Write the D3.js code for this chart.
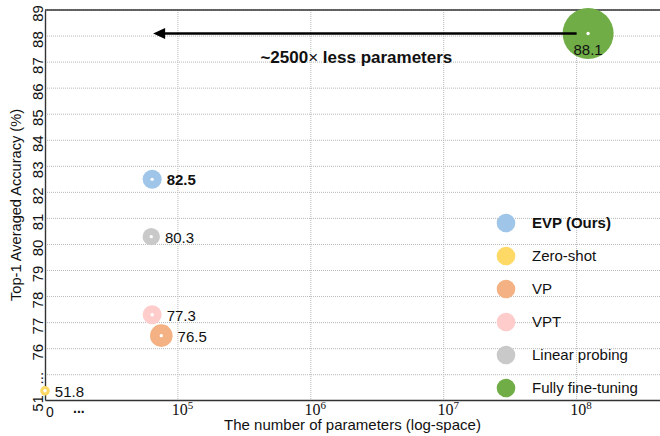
<!DOCTYPE html>
<html>
<head>
<meta charset="utf-8">
<script src="https://cdn.jsdelivr.net/npm/d3@7"></script>
<style>
  body { margin: 0; background: #fff; }
  svg { display: block; font-family: "Liberation Sans", Arial, sans-serif; }
</style>
</head>
<body>
<div id="chart"></div>
<script>
// data
const methods = ["EVP (Ours)", "Zero-shot", "VP", "VPT", "Linear probing", "Fully fine-tuning"];
const params = [64000, 0, 75000, 64000, 63000, 122000000];
const accuracy = [82.5, 51.8, 76.5, 77.3, 80.3, 88.1];
const yTicks = [51, 75, 76, 77, 78, 79, 80, 81, 82, 83, 84, 85, 86, 87, 88, 89];
const yTickLabels = ["51", "...", "76", "77", "78", "79", "80", "81", "82", "83", "84", "85", "86", "87", "88", "89"];
const xTicks = [1e5, 1e6, 1e7, 1e8];
const arrowFrom = 1e8, arrowTo = 64000, arrowAt = 88.1;
const arrowText = ["~2500", "\u00d7", " less parameters"];

// styles
const colors = ["#9fc5e8", "#ffd966", "#f4b183", "#ffcccc", "#c9c9c9", "#70ad47"];
const radii = [9.5, 4.8, 11.3, 9.5, 8.7, 25.5];
const boldLabel = [true, false, false, false, false, false];

const W = 660, H = 436;
const mLeft = 45, mTop = 10, mBottom = 400, mRight = 660;

const svg = d3.select("#chart").append("svg")
    .attr("width", W).attr("height", H);

const x = d3.scaleLog().domain([1e4, 4.24e8]).range([mLeft, mRight]);
// broken y axis: 51..53 squeezed under the "..." gap, 75..89 linear
const y = d3.scaleLinear().domain([51, 53, 75, 89]).range([mBottom, 377, 374.7, mTop]);

const px = v => x(v > 0 ? v : x.domain()[0]);

// grid
svg.append("g").selectAll("line").data(yTicks.filter(d => d !== 51)).enter()
    .append("line")
    .attr("x1", mLeft).attr("x2", mRight)
    .attr("y1", d => y(d)).attr("y2", d => y(d))
    .attr("stroke", "#b8b8b8").attr("stroke-width", 1)
    .attr("stroke-dasharray", "1,1");
svg.append("g").selectAll("line").data(xTicks).enter()
    .append("line")
    .attr("x1", d => x(d)).attr("x2", d => x(d))
    .attr("y1", mTop).attr("y2", mBottom)
    .attr("stroke", "#b8b8b8").attr("stroke-width", 1)
    .attr("stroke-dasharray", "1,1");

// frame
svg.append("line").attr("x1", mLeft).attr("x2", mRight).attr("y1", mTop).attr("y2", mTop)
    .attr("stroke", "#333").attr("stroke-width", 1.4);

// y axis
const gy = svg.append("g").attr("transform", `translate(${mLeft},0)`)
    .call(d3.axisLeft(y).tickValues(yTicks).tickSize(0)
        .tickFormat((d, i) => yTickLabels[i]));
gy.select(".domain").attr("stroke", "#333").attr("stroke-width", 1.4);
gy.selectAll("text")
    .attr("transform", "rotate(-90)")
    .attr("x", -3).attr("y", -2).attr("dy", 0)
    .attr("text-anchor", "middle")
    .style("font-family", "Liberation Sans, Arial, sans-serif")
    .style("font-size", "15px").style("fill", "#111");

// x axis
const gx = svg.append("g").attr("transform", `translate(0,${mBottom})`)
    .call(d3.axisBottom(x).tickValues(xTicks).tickSize(0).tickFormat(""));
gx.select(".domain").attr("stroke", "#333").attr("stroke-width", 1.4);
gx.selectAll(".tick text").each(function(d) {
    const t = d3.select(this)
        .attr("y", 15).attr("dy", 0).attr("x", 4)
        .attr("text-anchor", "middle")
        .style("font-family", "Liberation Serif, Times New Roman, serif")
        .style("font-size", "16px").style("fill", "#111");
    t.append("tspan").text("10");
    t.append("tspan").attr("dy", -6).style("font-size", "11px")
        .text(Math.round(Math.log10(d)));
});
svg.append("text")
    .attr("x", x(1e4) + 5).attr("y", mBottom + 17)
    .attr("text-anchor", "middle")
    .style("font-size", "14px").style("fill", "#111")
    .text("0");
svg.append("text")
    .attr("x", x(1.8e4)).attr("y", mBottom + 13)
    .attr("text-anchor", "middle")
    .style("font-size", "14px").style("font-weight", "bold").style("fill", "#111")
    .text("...");

// axis titles
svg.append("text")
    .attr("x", (mLeft + mRight) / 2).attr("y", 430)
    .attr("text-anchor", "middle")
    .style("font-size", "15px").style("fill", "#111")
    .text("The number of parameters (log-space)");
svg.append("text")
    .attr("transform", `translate(21,${(mTop + mBottom) / 2}) rotate(-90)`)
    .attr("text-anchor", "middle")
    .style("font-size", "14.6px").style("fill", "#111")
    .text("Top-1 Averaged Accuracy (%)");

// bubbles
const data = methods.map((m, i) => ({
    method: m, params: params[i], acc: accuracy[i],
    color: colors[i], r: radii[i], bold: boldLabel[i]
}));
const big = data.filter(d => d.method === "Fully fine-tuning");
const small = data.filter(d => d.method !== "Fully fine-tuning");

svg.selectAll(".big").data(big).enter().append("circle")
    .attr("class", "big")
    .attr("cx", d => px(d.params)).attr("cy", d => y(d.acc))
    .attr("r", d => d.r).attr("fill", d => d.color);

// arrow
const ay = y(arrowAt);
svg.append("line")
    .attr("x1", x(arrowFrom)).attr("x2", x(arrowTo) + 10)
    .attr("y1", ay).attr("y2", ay)
    .attr("stroke", "#000").attr("stroke-width", 2.5);
svg.append("path")
    .attr("d", `M${x(arrowTo) + 1},${ay} L${x(arrowTo) + 13},${ay - 5.5} L${x(arrowTo) + 13},${ay + 5.5} Z`)
    .attr("fill", "#000");
const at = svg.append("text")
    .attr("x", (x(arrowFrom) + x(arrowTo)) / 2 - 8).attr("y", ay + 30)
    .attr("text-anchor", "middle")
    .style("font-size", "17px").style("font-weight", "bold").style("fill", "#111");
at.append("tspan").text(arrowText[0]);
at.append("tspan").style("font-weight", "normal").text(arrowText[1]);
at.append("tspan").text(arrowText[2]);

svg.selectAll(".small").data(small).enter().append("circle")
    .attr("class", "small")
    .attr("cx", d => px(d.params)).attr("cy", d => y(d.acc))
    .attr("r", d => d.r).attr("fill", d => d.color);

svg.selectAll(".dot").data(data).enter().append("circle")
    .attr("class", "dot")
    .attr("cx", d => px(d.params)).attr("cy", d => y(d.acc))
    .attr("r", 1.7).attr("fill", "#fff");

// value labels
svg.selectAll(".val").data(small).enter().append("text")
    .attr("class", "val")
    .attr("x", d => px(d.params) + d.r + 5)
    .attr("y", d => y(d.acc)).attr("dy", "0.4em")
    .style("font-size", "15px").style("fill", "#111")
    .style("font-weight", d => d.bold ? "bold" : "normal")
    .text(d => d.acc.toFixed(1));
svg.selectAll(".valbig").data(big).enter().append("text")
    .attr("class", "valbig")
    .attr("x", d => px(d.params)).attr("y", d => y(d.acc) + 22)
    .attr("text-anchor", "middle")
    .style("font-size", "15px").style("fill", "#111")
    .text(d => d.acc.toFixed(1));

// legend
const legend = svg.append("g").attr("transform", "translate(506,223)");
const li = legend.selectAll("g").data(data).enter().append("g")
    .attr("transform", (d, i) => `translate(0,${i * 33})`);
li.append("circle").attr("r", 9.3).attr("fill", d => d.color);
li.append("text")
    .attr("x", 26).attr("dy", "0.36em")
    .style("font-size", "15px").style("fill", "#111")
    .style("font-weight", d => d.bold ? "bold" : "normal")
    .text(d => d.method);
</script>
</body>
</html>
